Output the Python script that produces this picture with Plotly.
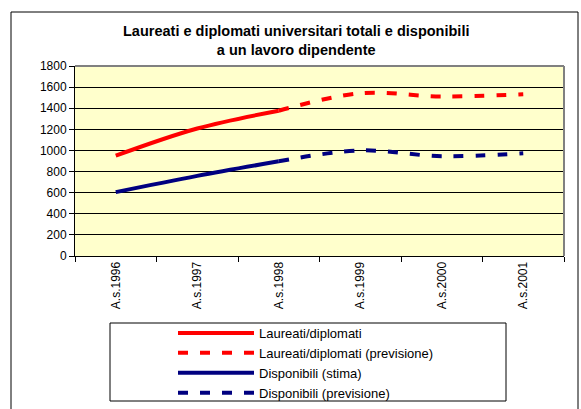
import plotly.graph_objects as go

categories = ["A.s.1996", "A.s.1997", "A.s.1998", "A.s.1999", "A.s.2000", "A.s.2001"]
laureati = [950, 1208, 1376]
laureati_prev = [1376, 1542, 1511, 1532]
disponibili = [605, 759, 897]
disponibili_prev = [897, 1000, 945, 973]

RED = "#FF0000"
NAVY = "#000080"
FONT = "Liberation Sans, Arial, sans-serif"

W, H = 581, 409
L, R, T, B = 75, 17, 66, 153
PW, PH = W - L - R, H - T - B

def px(x):
    return (x - L) / PW

def py(y):
    return (H - B - y) / PH

fig = go.Figure()
fig.add_trace(go.Scatter(x=categories[:3], y=laureati, mode="lines", name="Laureati/diplomati",
                         line=dict(color=RED, width=4, shape="spline")))
fig.add_trace(go.Scatter(x=categories[2:], y=laureati_prev, mode="lines", name="Laureati/diplomati (previsione)",
                         line=dict(color=RED, width=4, shape="spline", dash="10px,12px")))
fig.add_trace(go.Scatter(x=categories[:3], y=disponibili, mode="lines", name="Disponibili (stima)",
                         line=dict(color=NAVY, width=4, shape="spline")))
fig.add_trace(go.Scatter(x=categories[2:], y=disponibili_prev, mode="lines", name="Disponibili (previsione)",
                         line=dict(color=NAVY, width=4, shape="spline", dash="10px,12px")))

shapes = [
    # outer chart border
    dict(type="rect", xref="paper", yref="paper", x0=px(11), x1=px(578), y0=py(420), y1=py(12),
         line=dict(color="black", width=1), fillcolor="rgba(0,0,0,0)", layer="below"),
    # plot area top/right gray border
    dict(type="line", xref="paper", yref="paper", x0=0, x1=1, y0=1, y1=1, line=dict(color="#808080", width=2)),
    dict(type="line", xref="paper", yref="paper", x0=1, x1=1, y0=0, y1=1, line=dict(color="#808080", width=2)),
    # legend box
    dict(type="rect", xref="paper", yref="paper", x0=px(110), x1=px(506), y0=py(401), y1=py(323),
         line=dict(color="black", width=1), fillcolor="rgba(0,0,0,0)"),
]

fig.update_layout(
    width=W, height=H,
    margin=dict(l=L, r=R, t=T, b=B, pad=0, autoexpand=False),
    paper_bgcolor="white",
    plot_bgcolor="#FFFFCC",
    font=dict(family=FONT, size=12, color="black"),
    showlegend=True,
    legend=dict(x=px(173), y=py(318), xanchor="left", yanchor="top", itemwidth=76,
                bgcolor="rgba(0,0,0,0)", borderwidth=0, font=dict(size=13, family=FONT),
                tracegroupgap=0),
    shapes=shapes,
    annotations=[dict(text="<b>Laureati e diplomati universitari totali e disponibili<br>a un lavoro dipendente</b>",
                      xref="paper", yref="paper", x=px(296), y=py(40), xanchor="center", yanchor="middle",
                      showarrow=False, font=dict(size=14.5, family=FONT, color="black"))],
    xaxis=dict(type="category", categoryorder="array", categoryarray=categories,
               tickson="boundaries", ticks="outside", ticklen=5, tickcolor="black",
               showline=True, linecolor="black", linewidth=1, tickangle=-90,
               showgrid=False, zeroline=False, range=[-0.5, 5.5],
               tickfont=dict(size=12, family=FONT)),
    yaxis=dict(range=[0, 1800], dtick=200, ticks="outside", ticklen=5, tickcolor="black",
               showline=True, linecolor="black", linewidth=1, showgrid=True,
               gridcolor="black", gridwidth=1, zeroline=False,
               tickfont=dict(size=12, family=FONT)),
)

fig.write_html("out.html", config={"displayModeBar": False},
               post_script="document.body.style.margin='0px';document.body.style.padding='0px';")
